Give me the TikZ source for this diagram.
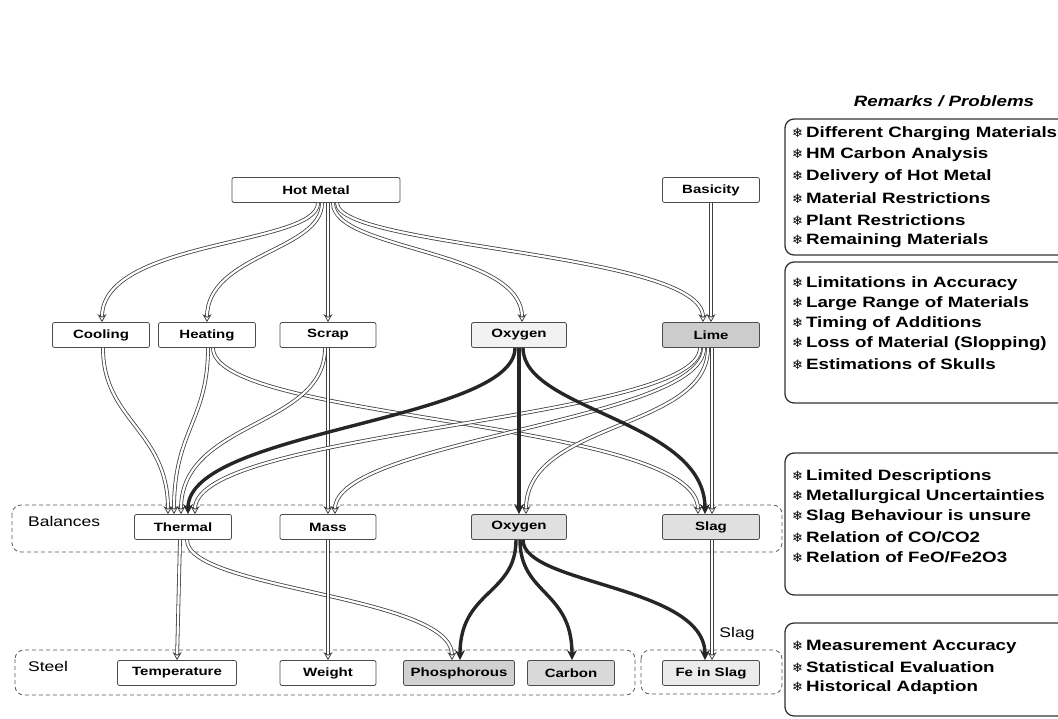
\documentclass[tikz,border=0pt]{standalone}
\usepackage{fontspec}
\setmainfont{Liberation Sans}
\newfontfamily\nf[FakeStretch=1.25]{Liberation Sans}
\newfontfamily\bulfont{DejaVu Sans}
\usetikzlibrary{arrows.meta}
\newcommand\nlabfont{\nf\bfseries\fontsize{12}{14}\selectfont}
\newcommand\remfont{\nf\bfseries\fontsize{15}{17}\selectfont}
\newcommand\grpfont{\nf\fontsize{14}{16}\selectfont}
\newcommand\bul{{\bulfont\fontsize{13}{15}\selectfont ❄}\hspace{3pt}}
\tikzset{
  box/.style={draw=black!70, line width=0.8pt, rounded corners=2pt, minimum height=25pt, inner sep=0pt, font=\nlabfont, fill=white},
  shd/.style={fill=black!#1},
  grp/.style={draw=black!65, line width=0.8pt, dash pattern=on 4pt off 3pt, rounded corners=9pt},
  rbox/.style={draw=black!80, line width=1.3pt, rounded corners=9pt},
  dl/.style={draw=black!75, line width=0.8pt, double=white, double distance=2.2pt, -{Stealth[open,length=8pt,width=9pt]}},
  tk/.style={draw=black!85, line width=3.4pt, -{Stealth[length=10pt,width=10pt]}},
  rem/.style={anchor=west, font=\remfont, inner sep=0pt},
  glab/.style={font=\grpfont, inner sep=0pt}
}
\begin{document}
\begin{tikzpicture}[x=1pt,y=-1pt]
\useasboundingbox (0,0) rectangle (1058,718);
% group frames
\draw[grp] (12,505) rectangle (782,552);
\draw[grp] (15,650) rectangle (635,695);
\draw[grp] (641,650) rectangle (782,694);
\node[glab, anchor=west] (lbal) at (28,521) {Balances};
\node[glab, anchor=west] (lste) at (28,666) {Steel};
\node[glab] (lslg) at (737,634) {Slag};
% nodes
\node[box, minimum width=168pt] (hm) at (316,190) {Hot Metal};
\node[box, minimum width=97pt] (bas) at (711,190) {Basicity};
\node[box, minimum width=97pt] (cool) at (101,335) {Cooling};
\node[box, minimum width=97pt] (heat) at (207,335) {Heating};
\node[box, minimum width=96pt] (scrap) at (328,335) {Scrap};
\node[box, minimum width=95pt, shd=5] (oxy) at (519,335) {Oxygen};
\node[box, minimum width=97pt, shd=20] (lime) at (711,335) {Lime};
\node[box, minimum width=97pt] (therm) at (183,527) {Thermal};
\node[box, minimum width=96pt] (mass) at (328,527) {Mass};
\node[box, minimum width=95pt, shd=12] (oxym) at (519,527) {Oxygen};
\node[box, minimum width=97pt, shd=12] (slag) at (711,527) {Slag};
\node[box, minimum width=119pt] (temp) at (177,673) {Temperature};
\node[box, minimum width=96pt] (weight) at (328,673) {Weight};
\node[box, minimum width=111pt, shd=18] (phos) at (459,673) {Phosphorous};
\node[box, minimum width=87pt, shd=15] (carb) at (571,673) {Carbon};
\node[box, minimum width=97pt, shd=8] (fes) at (711,673) {Fe in Slag};
% connectors from Hot Metal / Basicity
\draw[dl] ([xshift=2pt]hm.south) .. controls +(0,43) and +(0,-83) .. ([xshift=1pt]cool.north);
\draw[dl] ([xshift=6pt]hm.south) .. controls +(0,48) and +(0,-68) .. (heat.north);
\draw[dl] ([xshift=12pt]hm.south) -- (scrap.north);
\draw[dl] ([xshift=17pt]hm.south) .. controls +(0,48) and +(0,-73) .. ([xshift=3pt]oxy.north);
\draw[dl] ([xshift=21pt]hm.south) .. controls +(0,45) and +(0,-70) .. ([xshift=-8pt]lime.north);
\draw[dl] (bas.south) -- (lime.north);
% second level
\draw[dl] ([xshift=2pt]cool.south) .. controls +(0,73) and +(0,-84) .. ([xshift=-15pt]therm.north);
\draw[dl] ([xshift=1pt]heat.south) .. controls +(0,73) and +(0,-84) .. ([xshift=-9pt]therm.north);
\draw[dl] ([xshift=6pt]heat.south) .. controls +(0,73) and +(0,-94) .. ([xshift=-13pt]slag.north);
\draw[dl] ([xshift=-3pt]scrap.south) .. controls +(0,80) and +(0,-94) .. ([xshift=-2pt]therm.north);
\draw[dl] (scrap.south) -- (mass.north);
\draw[dl] ([xshift=-11pt]lime.south) .. controls +(0,73) and +(0,-84) .. ([xshift=12pt]therm.north);
\draw[dl] ([xshift=-7pt]lime.south) .. controls +(0,73) and +(0,-74) .. ([xshift=7pt]mass.north);
\draw[dl] ([xshift=-3pt]lime.south) .. controls +(0,83) and +(0,-94) .. ([xshift=7pt]oxym.north);
\draw[dl] ([xshift=1pt]lime.south) -- ([xshift=1pt]slag.north);
\draw[tk] ([xshift=-4pt]oxy.south) .. controls +(0,73) and +(0,-84) .. ([xshift=5pt]therm.north);
\draw[tk] (oxy.south) -- (oxym.north);
\draw[tk] ([xshift=4pt]oxy.south) .. controls +(0,63) and +(0,-94) .. ([xshift=-6pt]slag.north);
% third level
\draw[dl] ([xshift=-3pt]therm.south) -- (temp.north);
\draw[dl] ([xshift=4pt]therm.south) .. controls +(0,50) and +(0,-65) .. ([xshift=-7pt]phos.north);
\draw[dl] (mass.south) -- (weight.north);
\draw[dl] ([xshift=1pt]slag.south) -- ([xshift=1pt]fes.north);
\draw[tk] ([xshift=-3pt]oxym.south) .. controls +(0,55) and +(0,-70) .. ([xshift=1pt]phos.north);
\draw[tk] ([xshift=1pt]oxym.south) .. controls +(0,55) and +(0,-70) .. ([xshift=1pt]carb.north);
\draw[tk] ([xshift=4pt]oxym.south) .. controls +(0,45) and +(0,-75) .. ([xshift=-6pt]fes.north);
% remarks
\node[font=\nf\bfseries\itshape\fontsize{15}{17}\selectfont, inner sep=0pt] (rtitle) at (944,101) {Remarks / Problems};
\draw[rbox] (785,119) rectangle (1075,255);
\draw[rbox] (785,262) rectangle (1075,403);
\draw[rbox] (785,453) rectangle (1075,595);
\draw[rbox] (785,623) rectangle (1075,716);
\node[rem] (a1) at (792,134) {\bul Different Charging Materials};
\node[rem] (a2) at (792,155) {\bul HM Carbon Analysis};
\node[rem] (a3) at (792,177) {\bul Delivery of Hot Metal};
\node[rem] (a4) at (792,198) {\bul Material Restrictions};
\node[rem] (a5) at (792,220) {\bul Plant Restrictions};
\node[rem] (a6) at (792,241) {\bul Remaining Materials};
\node[rem] (b1) at (792,284) {\bul Limitations in Accuracy};
\node[rem] (b2) at (792,304) {\bul Large Range of Materials};
\node[rem] (b3) at (792,324) {\bul Timing of Additions};
\node[rem] (b4) at (792,344) {\bul Loss of Material (Slopping)};
\node[rem] (b5) at (792,364) {\bul Estimations of Skulls};
\node[rem] (c1) at (792,477) {\bul Limited Descriptions};
\node[rem] (c2) at (792,497) {\bul Metallurgical Uncertainties};
\node[rem] (c3) at (792,517) {\bul Slag Behaviour is unsure};
\node[rem] (c4) at (792,537) {\bul Relation of CO/CO2};
\node[rem] (c5) at (792,557) {\bul Relation of FeO/Fe2O3};
\node[rem] (d1) at (792,647) {\bul Measurement Accuracy};
\node[rem] (d2) at (792,667) {\bul Statistical Evaluation};
\node[rem] (d3) at (792,688) {\bul Historical Adaption};
\end{tikzpicture}
\end{document}
